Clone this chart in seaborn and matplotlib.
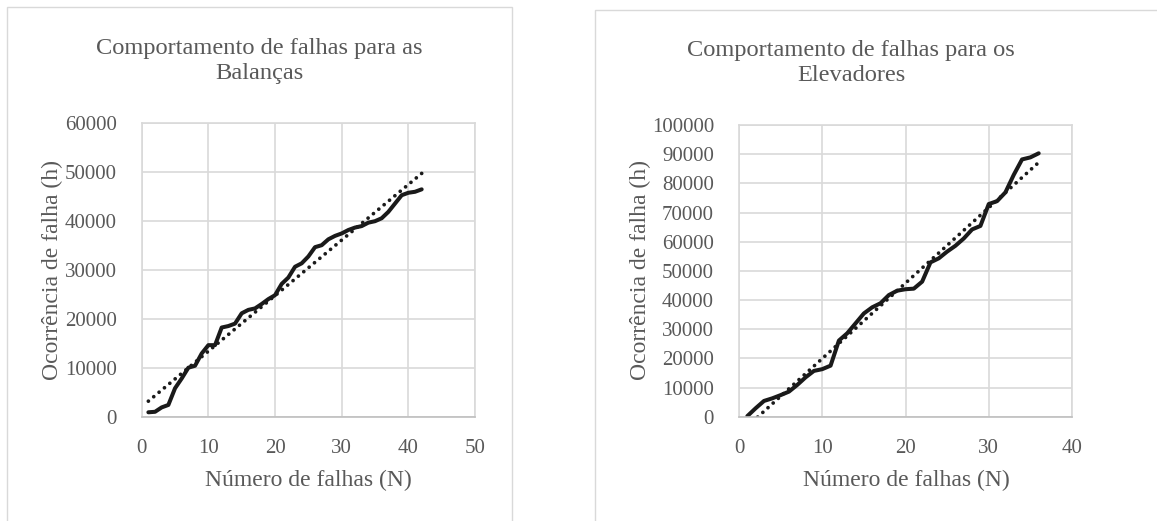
import numpy as np
import pandas as pd
import matplotlib
matplotlib.use("Agg")
import matplotlib.pyplot as plt
from matplotlib.patches import Rectangle
import seaborn as sns

# ---- data ----
bal_n = list(range(1, 43))
bal_h = [900, 1000, 1900, 2400, 5800, 7800, 10000, 10400, 12900, 14600,
         14600, 18200, 18500, 19000, 21100, 21800, 22100, 23000, 24000, 24800,
         27100, 28400, 30600, 31300, 32700, 34600, 35000, 36200, 36900, 37400,
         38100, 38600, 38900, 39600, 39900, 40500, 41800, 43500, 45200, 45700,
         45900, 46400]

ele_n = list(range(1, 37))
ele_h = [200, 2900, 5400, 6300, 7400, 8600, 10900, 13500, 15700, 16300,
         17500, 26100, 28600, 32000, 35400, 37500, 38900, 41700, 43200, 43700,
         43900, 46300, 52900, 54300, 56600, 58600, 61100, 64200, 65400, 72900,
         73900, 76900, 82900, 88200, 88900, 90300]

titles = ["Comportamento de falhas para as\nBalanças",
          "Comportamento de falhas para os\nElevadores"]
xlabel = "Número de falhas (N)"
ylabel = "Ocorrência de falha (h)"
bal_xticks = [0, 10, 20, 30, 40, 50]
bal_yticks = [0, 10000, 20000, 30000, 40000, 50000, 60000]
ele_xticks = [0, 10, 20, 30, 40]
ele_yticks = list(range(0, 100001, 10000))

sns.set_theme(style="white")
plt.rcParams['font.family'] = ['Liberation Serif', 'DejaVu Serif']

W, H = 1157, 521
fig = plt.figure(figsize=(W / 100, H / 100), dpi=100)
fig.patch.set_facecolor("white")

txt = "#595959"
grid = "#d9d9d9"

# panel borders
fig.add_artist(Rectangle((7 / W, -0.01), (512 - 7) / W, 1 - 7 / H + 0.01,
                         transform=fig.transFigure, fill=False,
                         edgecolor="#d9d9d9", lw=1))
fig.add_artist(Rectangle((595 / W, -0.01), (1160 - 595) / W, 1 - 10 / H + 0.01,
                         transform=fig.transFigure, fill=False,
                         edgecolor="#d9d9d9", lw=1))

def make(rect, n, h, xt, yt, title, title_xy, ylab_x, xlab_x):
    ax = fig.add_axes(rect)
    df = pd.DataFrame({"n": n, "h": h})
    slope, icpt = np.polyfit(df["n"], df["h"], 1)
    df["trend"] = slope * df["n"] + icpt
    sns.lineplot(data=df, x="n", y="trend", ax=ax, color="#1a1a1a", lw=2.7,
                 linestyle=(0, (0.01, 1.85)), dash_capstyle="round")
    ax.lines[-1].set_dash_capstyle("round")
    sns.lineplot(data=df, x="n", y="h", ax=ax, color="#1a1a1a", lw=2.9,
                 solid_joinstyle="round")
    ax.set_xlim(xt[0], xt[-1])
    ax.set_ylim(yt[0], yt[-1])
    ax.set_xticks(xt)
    ax.set_yticks(yt)
    ax.set_xticklabels([str(v) for v in xt])
    ax.set_yticklabels([str(v) for v in yt])
    ax.grid(True, color=grid, lw=1.2)
    ax.set_axisbelow(True)
    for s in ax.spines.values():
        s.set_color(grid)
        s.set_linewidth(1.2)
    ax.spines["bottom"].set_color("#bfbfbf")
    ax.tick_params(axis="both", length=0, labelsize=15, colors=txt)
    ax.tick_params(axis="y", pad=18)
    ax.tick_params(axis="x", pad=16)
    ax.set_xlabel("")
    ax.set_ylabel("")
    fig.text(title_xy[0] / W, 1 - title_xy[1] / H, title, ha="center",
             va="center", fontsize=17.6, color=txt, linespacing=1.2)
    fig.text(ylab_x / W, 1 - 270 / H, ylabel, rotation=90, ha="center",
             va="center", fontsize=17, color=txt)
    fig.text(xlab_x / W, 1 - 480 / H, xlabel, ha="center", va="center",
             fontsize=17, color=txt)
    return ax

make([141.7 / W, 1 - 416.7 / H, (475 - 141.7) / W, (416.7 - 122.7) / H],
     bal_n, bal_h, bal_xticks, bal_yticks, titles[0], (259, 61), 52, 308)
make([739 / W, 1 - 416.7 / H, (1072 - 739) / W, (416.7 - 125) / H],
     ele_n, ele_h, ele_xticks, ele_yticks, titles[1], (851, 63), 640, 906)

fig.savefig("out.png", dpi=100, facecolor="white")
